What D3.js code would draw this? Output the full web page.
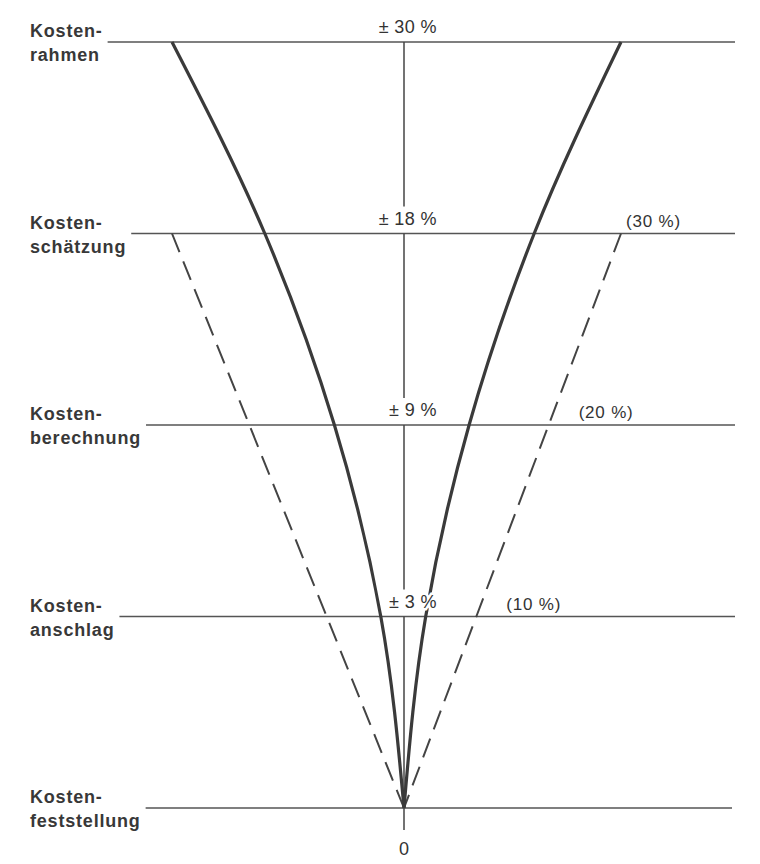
<!DOCTYPE html>
<html>
<head>
<meta charset="utf-8">
<script src="https://cdn.jsdelivr.net/npm/d3@7"></script>
<style>
  body { margin: 0; background: #fff; }
  svg { display: block; }
  text { font-family: "Liberation Sans", Arial, Helvetica, sans-serif; fill: #333; }
</style>
</head>
<body>
<script>
// Kostenermittlungsstufen (zweizeilige Beschriftung)
var stages = [
	["Kosten-", "rahmen"],
	["Kosten-", "schätzung"],
	["Kosten-", "berechnung"],
	["Kosten-", "anschlag"],
	["Kosten-", "feststellung"]
];
// Toleranz der Stufe in % (durchgezogene Kurve)
var tolerance = [30, 18, 9, 3, 0];
var toleranceLabels = ["± 30 %", "± 18 %", "± 9 %", "± 3 %"];
// Abweichung in % (gestrichelte Linie), ab Kostenschätzung
var deviation = [null, 30, 20, 10, 0];
var deviationLabels = [null, "(30 %)", "(20 %)", "(10 %)"];

var width = 760, height = 864;

var svg = d3.select("body")
	.append("svg")
	.attr("width", width)
	.attr("height", height);

var ids = d3.range(stages.length);
var last = ids.length - 1;

// y: Stufen, x: Prozent (links etwas breiter als rechts, wie in der Vorlage)
var y = d3.scalePoint().domain(ids).range([42, 808]);
var x = d3.scaleLinear().domain([-30, 0, 30]).range([172, 404, 621]);

// Beschriftung der Stufen links
var labels = svg.selectAll(".stage")
	.data(stages)
	.enter().append("text")
	.attr("class", "stage")
	.attr("x", 30)
	.attr("y", function(d, i){ return y(i) - 5; })
	.style("font-size", "18px")
	.style("font-weight", "bold")
	.style("letter-spacing", "0.8px")
	.style("fill", "#383838");
labels.append("tspan")
	.text(function(d){ return d[0]; });
labels.append("tspan")
	.attr("x", 30)
	.attr("dy", 24)
	.text(function(d){ return d[1]; });

// waagerechte Linien beginnen direkt hinter der Beschriftung
labels.each(function(d, i){
	var box = this.getBBox();
	svg.append("line")
		.attr("x1", box.x + box.width + 5)
		.attr("x2", i === last ? 732 : 735)
		.attr("y1", y(i))
		.attr("y2", y(i))
		.attr("stroke", "#555")
		.attr("stroke-width", 1.5);
});

// senkrechte Achse (unterbrochen für die Toleranzbeschriftung)
ids.forEach(function(i){
	var y2;
	if(i === last){
		y2 = y(i) + 22;         // kurzes Stück bis zur Null
	}else if(i === last - 1){
		y2 = y(i + 1);          // keine Beschriftung über der letzten Linie
	}else{
		y2 = y(i + 1) - 27;
	}
	svg.append("line")
		.attr("x1", x(0)).attr("x2", x(0))
		.attr("y1", y(i)).attr("y2", y2)
		.attr("stroke", "#444")
		.attr("stroke-width", 1.5);
});

// gestrichelte Linien
var dashData = ids.filter(function(i){ return deviation[i] !== null; });
[-1, 1].forEach(function(sign){
	var line = d3.line()
		.x(function(i){ return x(sign * deviation[i]); })
		.y(function(i){ return y(i); });
	svg.append("path")
		.datum(dashData)
		.attr("d", line)
		.attr("fill", "none")
		.attr("stroke", "#444")
		.attr("stroke-width", 2)
		.attr("stroke-dasharray", "20,10");
});

// durchgezogene Toleranzkurven
[-1, 1].forEach(function(sign){
	var curve = d3.line()
		.curve(d3.curveMonotoneY)
		.x(function(i){ return x(sign * tolerance[i]); })
		.y(function(i){ return y(i); });
	svg.append("path")
		.datum(ids)
		.attr("d", curve)
		.attr("fill", "none")
		.attr("stroke", "#3a3a3a")
		.attr("stroke-width", 3.2);
});

// Toleranzbeschriftung über der Achse
svg.selectAll(".tol")
	.data(toleranceLabels)
	.enter().append("text")
	.attr("class", "tol")
	.attr("x", x(0) + 33)
	.attr("y", function(d, i){ return y(i) - 9; })
	.attr("text-anchor", "end")
	.style("font-size", "18px")
	.style("letter-spacing", "0.4px")
	.style("paint-order", "stroke")
	.style("stroke", "#fff")
	.style("stroke-width", 5)
	.text(function(d){ return d; });

// Abweichungsbeschriftung rechts der gestrichelten Linie
svg.selectAll(".dev")
	.data(ids.filter(function(i){ return deviationLabels[i]; }))
	.enter().append("text")
	.attr("class", "dev")
	.attr("x", function(i, k){ return x(deviation[i]) + (k === 0 ? 5 : 30); })
	.attr("y", function(i){ return y(i) - 7; })
	.style("font-size", "17px")
	.style("letter-spacing", "0.8px")
	.text(function(i){ return deviationLabels[i]; });

// Null unter der Achse
svg.append("text")
	.attr("x", x(0))
	.attr("y", y(last) + 47)
	.attr("text-anchor", "middle")
	.style("font-size", "18px")
	.text("0");
</script>
</body>
</html>
